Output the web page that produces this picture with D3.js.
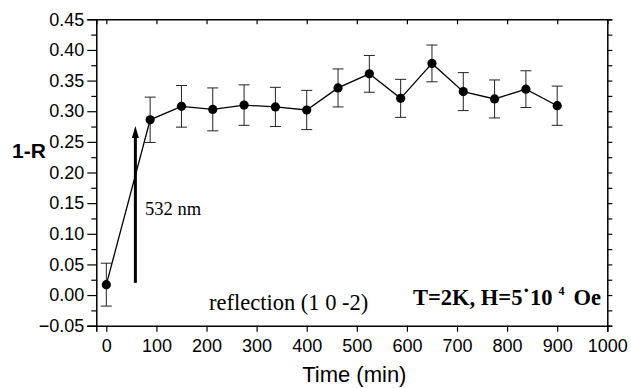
<!DOCTYPE html>
<html>
<head>
<meta charset="utf-8">
<script src="https://cdn.jsdelivr.net/npm/d3@7"></script>
<style>
  body { margin: 0; background: #fff; }
  svg { display: block; }
  .tick-label { font-family: "Liberation Sans", Arial, sans-serif; font-size: 18px; fill: #000; }
  .serif { font-family: "Liberation Serif", "Times New Roman", serif; fill: #000; }
</style>
</head>
<body>
<div id="chart"></div>
<script>
// data
const timeMin = [0, 87.5, 150, 212.5, 275, 337.5, 400, 462.5, 525, 587.5, 650, 712.5, 775, 837.5, 900];
const oneMinusR = [0.017, 0.286, 0.308, 0.303, 0.310, 0.307, 0.302, 0.338, 0.361, 0.321, 0.378, 0.332, 0.320, 0.336, 0.309];
const errR = [0.035, 0.037, 0.034, 0.035, 0.033, 0.032, 0.032, 0.031, 0.030, 0.031, 0.030, 0.031, 0.031, 0.030, 0.032];
const xTicks = [0, 100, 200, 300, 400, 500, 600, 700, 800, 900, 1000];
const yTicks = [-0.05, 0, 0.05, 0.10, 0.15, 0.20, 0.25, 0.30, 0.35, 0.40, 0.45];
const yMinorTicks = [-0.025, 0.025, 0.075, 0.125, 0.175, 0.225, 0.275, 0.325, 0.375, 0.425];
// laser pulse arrow (time, from, to)
const arrowTime = 58;
const arrowFrom = 0.02;
const arrowTo = 0.276;

const W = 631, H = 388;
const margin = { top: 19.3, right: 23.7, bottom: 62.3, left: 96.3 };

const svg = d3.select('#chart').append('svg')
  .attr('width', W)
  .attr('height', H);

const x = d3.scaleLinear().domain([-20, 1000]).range([margin.left, W - margin.right]);
const y = d3.scaleLinear().domain([-0.05, 0.45]).range([H - margin.bottom, margin.top]);

// axes
const fmt = d3.format('.2f');
svg.append('g')
  .attr('transform', `translate(0, ${y(-0.05)})`)
  .call(d3.axisBottom(x).tickValues(xTicks).tickSize(6).tickPadding(8).tickFormat(d3.format('d')))
  .call(g => g.selectAll('text').attr('class', 'tick-label').attr('font-size', null).attr('font-family', null));

svg.append('g')
  .attr('transform', `translate(0, ${y(0.45)})`)
  .call(d3.axisBottom(x).tickValues(xTicks.slice(0, -1)).tickSize(5).tickFormat(''));

svg.append('g')
  .attr('transform', `translate(${x(-20)}, 0)`)
  .call(d3.axisLeft(y).tickValues(yTicks).tickSize(9).tickPadding(3).tickFormat(fmt))
  .call(g => g.selectAll('text').attr('class', 'tick-label').attr('font-size', null).attr('font-family', null));

svg.append('g')
  .attr('transform', `translate(${x(-20)}, 0)`)
  .call(d3.axisLeft(y).tickValues(yMinorTicks).tickSize(5).tickFormat(''))
  .call(g => g.select('.domain').remove());

svg.append('g')
  .attr('transform', `translate(${x(1000)}, 0)`)
  .call(d3.axisLeft(y).tickValues(yTicks.concat(yMinorTicks)).tickSize(-5).tickFormat(''));

svg.selectAll('.domain').attr('stroke', '#000').attr('stroke-width', 1.5);
svg.selectAll('.tick line').attr('stroke', '#000').attr('stroke-width', 1.2);

// error bars
const bars = svg.append('g').attr('stroke', '#222').attr('stroke-width', 1);
timeMin.forEach((t, i) => {
  const cx = x(t), lo = y(oneMinusR[i] - errR[i]), hi = y(oneMinusR[i] + errR[i]);
  bars.append('line').attr('x1', cx).attr('x2', cx).attr('y1', lo).attr('y2', hi);
  bars.append('line').attr('x1', cx - 5.5).attr('x2', cx + 5.5).attr('y1', lo).attr('y2', lo);
  bars.append('line').attr('x1', cx - 5.5).attr('x2', cx + 5.5).attr('y1', hi).attr('y2', hi);
});

// connecting line
const line = d3.line().x((d, i) => x(timeMin[i])).y(d => y(d));
svg.append('path')
  .datum(oneMinusR)
  .attr('fill', 'none')
  .attr('stroke', '#000')
  .attr('stroke-width', 1.3)
  .attr('d', line);

// markers
svg.append('g').selectAll('circle')
  .data(oneMinusR)
  .join('circle')
  .attr('cx', (d, i) => x(timeMin[i]))
  .attr('cy', d => y(d))
  .attr('r', 4.6)
  .attr('fill', '#000');

// arrow
const ax = x(arrowTime);
svg.append('line')
  .attr('x1', ax).attr('x2', ax)
  .attr('y1', y(arrowFrom)).attr('y2', y(arrowTo) + 10)
  .attr('stroke', '#000').attr('stroke-width', 3);
svg.append('path')
  .attr('d', `M${ax},${y(arrowTo)} L${ax - 3.5},${y(arrowTo) + 12} L${ax + 3.5},${y(arrowTo) + 12} Z`)
  .attr('fill', '#000');

// texts
svg.append('text').attr('class', 'serif')
  .attr('x', 145).attr('y', 215).attr('font-size', 18.5)
  .text('532 nm');

svg.append('text').attr('class', 'serif')
  .attr('x', 209).attr('y', 310).attr('font-size', 22.5)
  .text('reflection (1 0 -2)');

const tl = svg.append('text').attr('class', 'serif')
  .attr('x', 413).attr('y', 305).attr('font-size', 22.5).attr('font-weight', 'bold');
tl.append('tspan').text('T=2K, H=5\u02d910');
tl.append('tspan').attr('dx', 6).attr('dy', -10).attr('font-size', 12).text('4');
tl.append('tspan').attr('dx', 9).attr('dy', 10).text('Oe');

svg.append('text')
  .attr('x', 12).attr('y', 158)
  .attr('font-family', '"Liberation Sans", Arial, sans-serif')
  .attr('font-size', 21).attr('font-weight', 'bold')
  .text('1-R');

svg.append('text')
  .attr('x', x(495)).attr('y', 382)
  .attr('text-anchor', 'middle')
  .attr('font-family', '"Liberation Sans", Arial, sans-serif')
  .attr('font-size', 22)
  .text('Time (min)');
</script>
</body>
</html>
